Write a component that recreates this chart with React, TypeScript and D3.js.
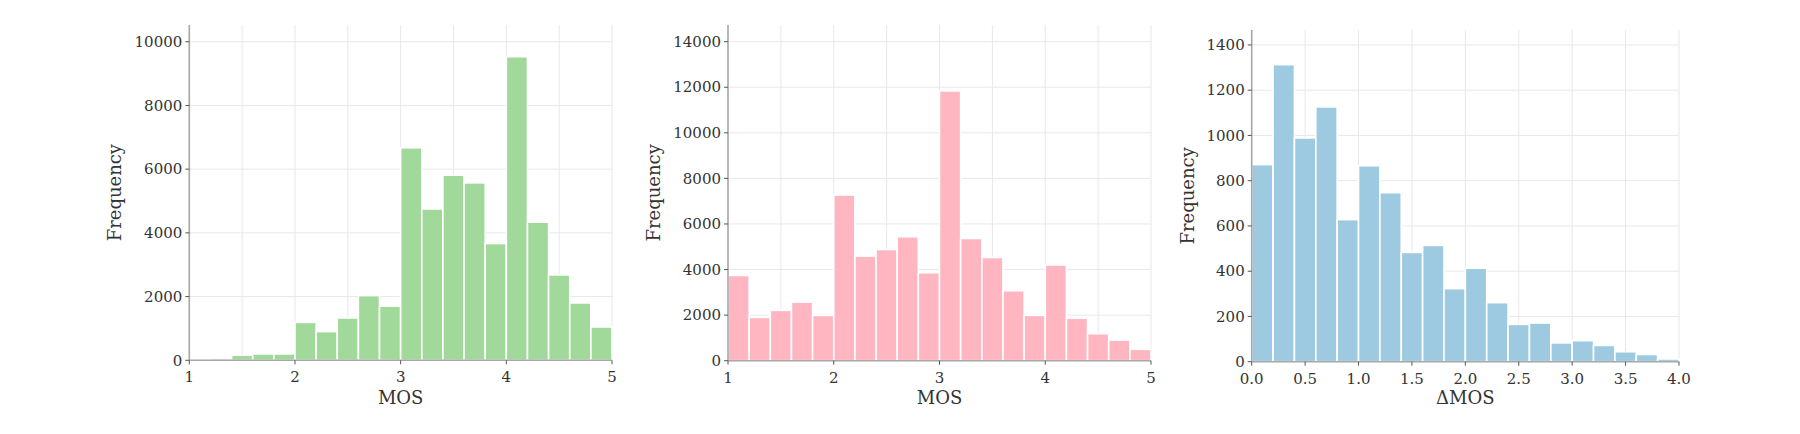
import React from "react";
import * as d3 from "d3";

// Data (bin counts, 20 bins each)
const mosBinsA = [1.0,1.2,1.4,1.6,1.8,2.0,2.2,2.4,2.6,2.8,3.0,3.2,3.4,3.6,3.8,4.0,4.2,4.4,4.6,4.8];
const countsA = [0,60,160,200,200,1190,900,1330,2030,1700,6670,4750,5810,5570,3665,9530,4335,2680,1800,1045];
const countsB = [3740,1900,2210,2570,1990,7270,4590,4880,5440,3860,11840,5365,4530,3070,1990,4200,1870,1185,905,500];
const dmosBins = [0.0,0.2,0.4,0.6,0.8,1.0,1.2,1.4,1.6,1.8,2.0,2.2,2.4,2.6,2.8,3.0,3.2,3.4,3.6,3.8];
const countsC = [871,1313,989,1126,628,866,747,483,514,323,413,261,165,171,83,93,72,44,32,12];
const yTicksA = [0,2000,4000,6000,8000,10000];
const yTicksB = [0,2000,4000,6000,8000,10000,12000,14000];
const yTicksC = [0,200,400,600,800,1000,1200,1400];
const xTicksMOS = [1,2,3,4,5];
const xTicksDMOS = [0,0.5,1,1.5,2,2.5,3,3.5,4];
const gridMOS = [1,1.5,2,2.5,3,3.5,4,4.5,5];

const FONT = "'DejaVu Serif', serif";

type PanelProps = {
  bins: number[]; counts: number[]; width: number; color: string;
  xDomain: [number, number]; xRange: [number, number];
  yMax: number; yRange: [number, number];
  yTicks: number[]; xTicks: number[]; xGrid: number[];
  xFmt: (v: number) => string; xLabel: string; yLabelX: number;
};

function Panel(p: PanelProps) {
  const x = d3.scaleLinear().domain(p.xDomain).range(p.xRange);
  const y = d3.scaleLinear().domain([0, p.yMax]).range(p.yRange);
  const [x0, x1] = p.xRange;
  const [yb, yt] = p.yRange;
  return (
    <g>
      {p.xGrid.map((v) => (
        <line key={"gx" + v} x1={x(v)} x2={x(v)} y1={yt} y2={yb} stroke="#e8e8e8" strokeWidth={1} />
      ))}
      {p.yTicks.map((v) => (
        <line key={"gy" + v} x1={x0} x2={x1} y1={y(v)} y2={y(v)} stroke="#e8e8e8" strokeWidth={1} />
      ))}
      {p.bins.map((b, i) => (
        p.counts[i] > 0 ? (
          <rect key={"b" + i} x={x(b)} width={x(b + p.width) - x(b)} y={y(p.counts[i])}
            height={y(0) - y(p.counts[i])} fill={p.color} stroke="#ffffff" strokeWidth={1.6} />
        ) : null
      ))}
      <line x1={x0} x2={x0} y1={yt} y2={yb} stroke="#a8a8a8" strokeWidth={1.6} />
      <line x1={x0} x2={x1} y1={yb} y2={yb} stroke="#a8a8a8" strokeWidth={1.6} />
      {p.yTicks.map((v) => (
        <g key={"ty" + v}>
          <line x1={x0 - 4} x2={x0} y1={y(v)} y2={y(v)} stroke="#555" strokeWidth={1} />
          <text x={x0 - 7} y={y(v)} dy="0.35em" textAnchor="end" fontFamily={FONT} fontSize={15} fill="#333">{v}</text>
        </g>
      ))}
      {p.xTicks.map((v) => (
        <g key={"tx" + v}>
          <line x1={x(v)} x2={x(v)} y1={yb} y2={yb + 4} stroke="#555" strokeWidth={1} />
          <text x={x(v)} y={yb + 22} textAnchor="middle" fontFamily={FONT} fontSize={15} fill="#333">{p.xFmt(v)}</text>
        </g>
      ))}
      <text x={(x0 + x1) / 2} y={404} textAnchor="middle" fontFamily={FONT} fontSize={18} fill="#333">{p.xLabel}</text>
      <text transform={`translate(${p.yLabelX},${(yt + yb) / 2}) rotate(-90)`} textAnchor="middle" dy="0.35em"
        fontFamily={FONT} fontSize={18} fill="#333">Frequency</text>
    </g>
  );
}

export default function App() {
  return (
    <svg width={1800} height={434} style={{ position: "absolute", left: 0, top: 0, background: "#fff" }}>
      <rect width={1800} height={434} fill="#fff" />
      <Panel bins={mosBinsA} counts={countsA} width={0.2} color="#a1d99b"
        xDomain={[1, 5]} xRange={[189.3, 612]} yMax={10525} yRange={[360.3, 25]}
        yTicks={yTicksA} xTicks={xTicksMOS} xGrid={gridMOS} xFmt={(v) => String(v)}
        xLabel="MOS" yLabelX={115} />
      <Panel bins={mosBinsA} counts={countsB} width={0.2} color="#ffb6c1"
        xDomain={[1, 5]} xRange={[728, 1151]} yMax={14731} yRange={[360.7, 25]}
        yTicks={yTicksB} xTicks={xTicksMOS} xGrid={gridMOS} xFmt={(v) => String(v)}
        xLabel="MOS" yLabelX={654} />
      <Panel bins={dmosBins} counts={countsC} width={0.2} color="#9ecae1"
        xDomain={[0, 4]} xRange={[1251.7, 1679]} yMax={1466} yRange={[361.7, 30]}
        yTicks={yTicksC} xTicks={xTicksDMOS} xGrid={xTicksDMOS} xFmt={(v) => v.toFixed(1)}
        xLabel="ΔMOS" yLabelX={1188} />
    </svg>
  );
}
